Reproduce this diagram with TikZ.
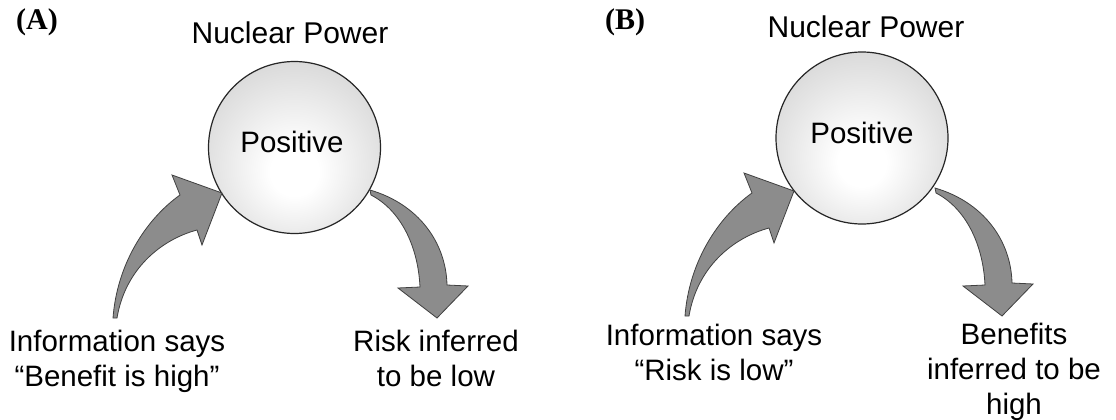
\documentclass[tikz,border=0pt]{standalone}
\usepackage{fontspec}
\setmainfont{Liberation Sans}
\newfontfamily\labfont{Liberation Serif}
\pgfdeclareradialshading{sphereshade}{\pgfpoint{0bp}{-8bp}}{rgb(0bp)=(1,1,1); rgb(7bp)=(1,1,1); rgb(30bp)=(0.85,0.85,0.85); rgb(48bp)=(0.7,0.7,0.7); rgb(60bp)=(0.62,0.62,0.62)}
\newcommand\fatinpath{(113,318) .. controls (117,265) and (145,220) .. (180,195) -- (172,175) -- (222,193) -- (202,245) -- (197,230) .. controls (160,240) and (125,270) .. (117,318) -- cycle}
\newcommand\fatoutpath{(370,190) .. controls (418,204) and (446,242) .. (447,285) -- (468,286) -- (437,318) -- (398,288) -- (420,287) .. controls (418,245) and (400,210) .. (371,195) -- cycle}
\begin{document}
\begin{tikzpicture}[x=1pt,y=-1pt,
  sphere/.style={circle,draw=black!85,line width=1.2pt,minimum size=172pt,inner sep=0pt,shading=sphereshade},
  lbl/.style={font=\fontsize{29.5}{35}\selectfont,inner sep=0pt,anchor=base,text=black},
  panel/.style={font=\labfont\bfseries\fontsize{30}{36}\selectfont,inner sep=0pt,anchor=base west},
  fat/.style={fill=black!45,draw=black!75,line width=0.8pt,line join=miter}]
\useasboundingbox[fill=white] (0,0) rectangle (1116,420);
% Panel A
\node[panel] (pa) at (16,30) {(A)};
\node[lbl,font=\fontsize{30}{36}\selectfont] (npa) at (290,44) {Nuclear Power};
\node[sphere] (ca) at (294.5,147.5) {};
\node[lbl] (posa) at (292,152) {Positive};
\draw[fat] \fatinpath;
\draw[fat] \fatoutpath;
\node[lbl,align=center] (ia) at (117,386) {Information says\\“Benefit is high”};
\node[lbl,align=center] (ra) at (436,386) {Risk inferred\\to be low};
% Panel B
\node[panel] (pb) at (605,30) {(B)};
\node[lbl,font=\fontsize{30}{36}\selectfont] (npb) at (866,38) {Nuclear Power};
\node[sphere] (cb) at (862,138) {};
\node[lbl] (posb) at (862,143) {Positive};
\begin{scope}[shift={(572,-2)}]
\draw[fat] \fatinpath;
\end{scope}
\begin{scope}[shift={(565,-2)}]
\draw[fat] \fatoutpath;
\end{scope}
\node[lbl,align=center] (ib) at (714,380) {Information says\\“Risk is low”};
\node[lbl,align=center] (rb) at (1014,414) {Benefits\\inferred to be\\high};
\end{tikzpicture}
\end{document}
